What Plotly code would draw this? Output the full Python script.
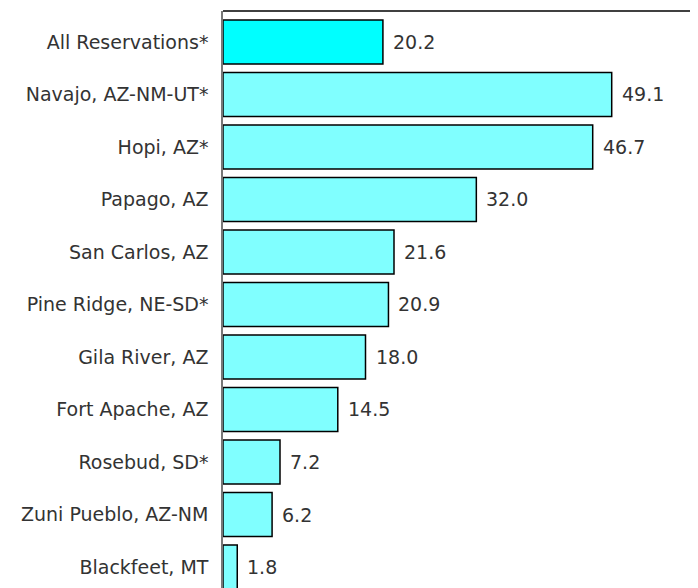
import plotly.graph_objects as go

reservations = [
    "All Reservations*",
    "Navajo, AZ-NM-UT*",
    "Hopi, AZ*",
    "Papago, AZ",
    "San Carlos, AZ",
    "Pine Ridge, NE-SD*",
    "Gila River, AZ",
    "Fort Apache, AZ",
    "Rosebud, SD*",
    "Zuni Pueblo, AZ-NM",
    "Blackfeet, MT",
]
values = [20.2, 49.1, 46.7, 32.0, 21.6, 20.9, 18.0, 14.5, 7.2, 6.2, 1.8]

colors = ["#00FFFF"] + ["#80FFFF"] * (len(values) - 1)
FONT = "DejaVu Sans"

fig = go.Figure(
    go.Bar(
        x=values, y=reservations, orientation="h",
        marker=dict(color=colors, line=dict(color="#000000", width=1.5)),
        showlegend=False, hoverinfo="skip",
    )
)

for name, v in zip(reservations, values):
    fig.add_annotation(
        x=v, y=name, text=f"{v:.1f}", showarrow=False,
        xanchor="left", xshift=8,
        font=dict(family=FONT, size=19, color="#333333"),
    )

# top border line of the plot area
fig.add_shape(type="line", xref="paper", yref="paper", x0=0, x1=1, y0=1, y1=1,
              line=dict(color="#000000", width=1.5))

fig.update_xaxes(range=[0, 60], visible=False)
fig.update_yaxes(
    type="category", range=[10.4, -0.59],
    showline=True, linecolor="#777777", linewidth=1.5,
    ticks="", ticklabelstandoff=9, showgrid=False, zeroline=False,
    tickfont=dict(family=FONT, size=19, color="#333333"),
)
# page body has an 8px margin, so the figure is sized/offset to fit the window
fig.update_layout(
    width=690, height=580, bargap=0.16,
    margin=dict(l=215, r=0, t=3, b=0),
    plot_bgcolor="#FFFFFF", paper_bgcolor="#FFFFFF",
)

fig.write_html("out.html")
